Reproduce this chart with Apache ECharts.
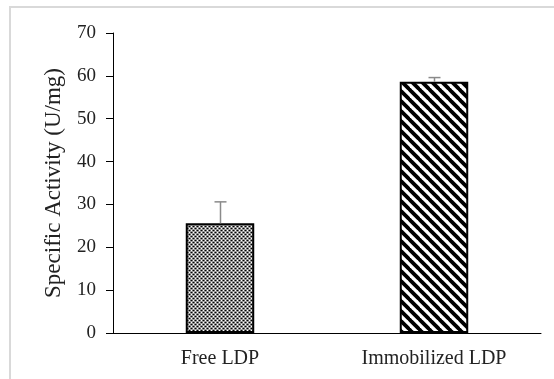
<!DOCTYPE html>
<html><head><meta charset="utf-8">
<script src="https://cdn.jsdelivr.net/npm/echarts@6/dist/echarts.min.js"></script>
<style>html,body{margin:0;padding:0;background:#fff}#c{width:554px;height:379px}</style>
</head><body><div id="c"></div>
<script>
var categories = ['Free LDP', 'Immobilized LDP'];
var values = [25.6, 58.6];
var errors = [5.0, 1.0];
var yTicks = [0, 10, 20, 30, 40, 50, 60, 70];

function dotPattern() {
  var c = document.createElement('canvas'); c.width = 4; c.height = 4;
  var g = c.getContext('2d');
  g.fillStyle = '#6a6a6a'; g.fillRect(0, 0, 4, 4);
  g.fillStyle = '#9c9c9c'; g.fillRect(0, 1, 4, 1); g.fillRect(0, 3, 4, 1);
  g.fillStyle = '#ffffff'; g.fillRect(1, 0, 1, 1); g.fillRect(3, 2, 1, 1);
  g.fillStyle = '#000000'; g.fillRect(3, 0, 1, 1); g.fillRect(1, 2, 1, 1);
  return c;
}
function stripePattern() {
  var s = 10;
  var c = document.createElement('canvas'); c.width = s; c.height = s;
  var g = c.getContext('2d');
  g.fillStyle = '#fff'; g.fillRect(0, 0, s, s);
  g.strokeStyle = '#000'; g.lineWidth = 3.8;
  [-s, 0, s].forEach(function (o) {
    g.beginPath(); g.moveTo(o - 1, -1); g.lineTo(o + s + 1, s + 1); g.stroke();
  });
  return c;
}
var patterns = [
  { image: dotPattern(), repeat: 'repeat' },
  { image: stripePattern(), repeat: 'repeat' }
];

var chart = echarts.init(document.getElementById('c'));
chart.setOption({
  animation: false,
  backgroundColor: '#fff',
  graphic: [{
    type: 'rect', shape: { x: 10, y: 7, width: 600, height: 420 },
    style: { fill: 'none', stroke: '#d9d9d9', lineWidth: 2 }, silent: true
  }],
  grid: { left: 113, right: 13, top: 33, bottom: 46 },
  xAxis: {
    type: 'category', data: categories,
    axisLine: { lineStyle: { color: '#000', width: 1 } },
    axisTick: { show: false },
    axisLabel: { color: '#222', fontFamily: 'Liberation Serif', fontSize: 20, margin: 16 }
  },
  yAxis: {
    type: 'value', min: 0, max: 70, interval: 10,
    name: 'Specific Activity (U/mg)', nameLocation: 'middle', nameGap: 48,
    nameTextStyle: { color: '#222', fontFamily: 'Liberation Serif', fontSize: 23 },
    axisLine: { show: true, lineStyle: { color: '#000', width: 1 } },
    axisTick: { show: true, length: 7, lineStyle: { color: '#000' } },
    splitLine: { show: false },
    axisLabel: {
      color: '#222', fontFamily: 'Liberation Serif', fontSize: 19, margin: 17,
      formatter: function (v) { return yTicks.indexOf(v) >= 0 ? String(v) : ''; }
    }
  },
  series: [{
    type: 'bar', barWidth: '32%', z: 2,
    data: values.map(function (v, i) {
      return { value: v, itemStyle: { color: patterns[i], borderColor: '#000', borderWidth: 2 } };
    })
  }, {
    type: 'custom', z: 3,
    data: values.map(function (v, i) { return [i, v, v + errors[i]]; }),
    renderItem: function (params, api) {
      var lo = api.coord([api.value(0), api.value(1)]);
      var hi = api.coord([api.value(0), api.value(2)]);
      var x = Math.round(lo[0]) + 0.5;
      var hw = 6;
      var st = { stroke: '#8a8a8a', lineWidth: 1.5 };
      return { type: 'group', children: [
        { type: 'line', shape: { x1: x, y1: lo[1], x2: x, y2: hi[1] }, style: st },
        { type: 'line', shape: { x1: x - hw, y1: hi[1], x2: x + hw, y2: hi[1] }, style: st }
      ] };
    }
  }]
});
</script></body></html>
